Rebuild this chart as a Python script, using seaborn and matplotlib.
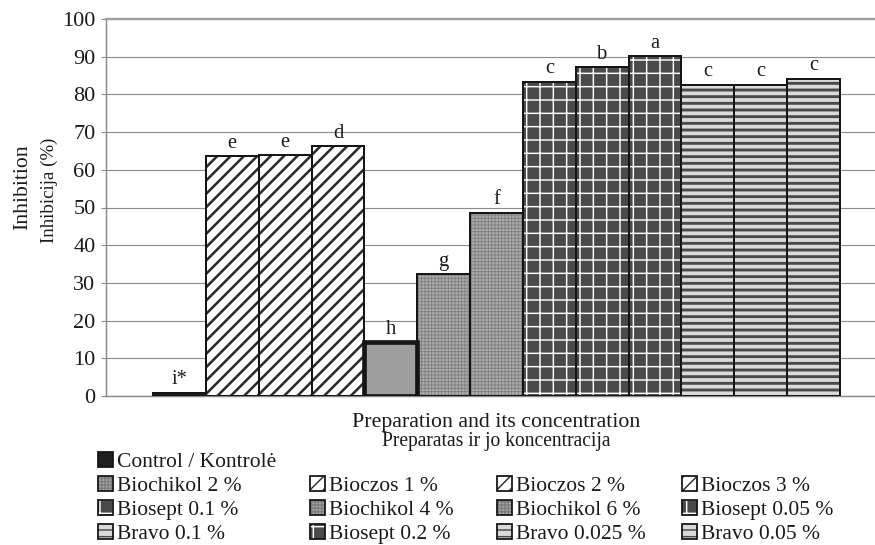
import matplotlib
matplotlib.use("Agg")
import matplotlib.pyplot as plt
from matplotlib.patches import Patch, Rectangle
import seaborn as sns


# bars, left to right
preparations = [
    "Control / Kontrolė",
    "Bioczos 1 %", "Bioczos 2 %", "Bioczos 3 %",
    "Biochikol 2 %", "Biochikol 4 %", "Biochikol 6 %",
    "Biosept 0.05 %", "Biosept 0.1 %", "Biosept 0.2 %",
    "Bravo 0.025 %", "Bravo 0.05 %", "Bravo 0.1 %",
]
inhibition = [0.9, 63.6, 63.9, 66.3, 14.2, 32.4, 48.6, 83.4, 87.3, 90.2, 82.6, 82.6, 84.2]
letters = ["i*", "e", "e", "d", "h", "g", "f", "c", "b", "a", "c", "c", "c"]

y_ticks = [0, 10, 20, 30, 40, 50, 60, 70, 80, 90, 100]

# legend as laid out in the figure (row by row, 4 columns)
legend_rows = [
    ["Control / Kontrolė"],
    ["Biochikol 2 %", "Bioczos 1 %", "Bioczos 2 %", "Bioczos 3 %"],
    ["Biosept 0.1 %", "Biochikol 4 %", "Biochikol 6 %", "Biosept 0.05 %"],
    ["Bravo 0.1 %", "Biosept 0.2 %", "Bravo 0.025 %", "Bravo 0.05 %"],
]

# fill styles per preparation group: face, hatch, hatch colour, hatch width
STYLES = {
    "Control": ("#1e1e1e", None, "#1e1e1e", 1.0),
    "Bioczos": ("white", "//", "#2a2a2a", 2.3),
    "Biochikol 2": ("#9e9e9e", None, "#9e9e9e", 1.0),
    "Biochikol": ("#ababab", "++++", "#7c7c7c", 0.7),
    "Biosept": ("#4a4a4a", "+", "white", 1.3),
    "Bravo": ("#dadada", "--", "#4a4a4a", 2.6),
}
GROUPS = ("Control", "Bioczos", "Biochikol", "Biosept", "Bravo")


def style_for(name, legend=False):
    if name.startswith("Biochikol 2 ") and not legend:
        return STYLES["Biochikol 2"]
    for key in GROUPS:
        if name.startswith(key):
            return STYLES[key]


def hatch_width(artist, lw):
    # per-patch hatch width: use the setter if there is one, else the stored value,
    # and keep the rcParam at that value while this patch draws
    if hasattr(artist, "set_hatch_linewidth"):
        artist.set_hatch_linewidth(lw)
    elif hasattr(artist, "_hatch_linewidth"):
        artist._hatch_linewidth = lw
    orig = artist.draw

    def draw(renderer):
        with plt.rc_context({"hatch.linewidth": lw}):
            orig(renderer)

    artist.draw = draw


def apply_style(patch, name):
    face, hatch, hcolor, hlw = style_for(name)
    patch.set_facecolor(face)
    patch.set_edgecolor(hcolor)
    patch.set_linewidth(0)
    if hatch:
        patch.set_hatch(hatch)
        hatch_width(patch, hlw)


DPI = 80
W, H = 875, 545

sns.set_theme(style="white")
plt.rcParams["font.family"] = ["Liberation Serif", "DejaVu Serif"]
plt.rcParams["hatch.linewidth"] = 1.3

fig = plt.figure(figsize=(W / DPI, H / DPI), dpi=DPI)
ax = fig.add_axes([106 / W, 149 / H, 781 / W, 377 / H])

sns.barplot(x=preparations, y=inhibition, order=preparations, width=1.0,
            color="grey", errorbar=None, ax=ax)

bars = list(ax.patches)
for patch, name, letter, val in zip(bars, preparations, letters, inhibition):
    apply_style(patch, name)
    lw = 4.2 if name.startswith("Biochikol 2 ") else 1.8
    ax.add_patch(Rectangle(patch.get_xy(), patch.get_width(), patch.get_height(),
                           fill=False, edgecolor="#151515", linewidth=lw,
                           joinstyle="miter", zorder=3))
    ax.annotate(letter, (patch.get_x() + patch.get_width() / 2, val),
                xytext=(0, 3), textcoords="offset points",
                ha="center", va="bottom", fontsize=18.5, color="#1a1a1a")

ax.set_xlim(-1.389, 13.389)
ax.set_ylim(0, 100)
ax.set_yticks(y_ticks)
ax.set_xticks([])
ax.set_xlabel("")
ax.set_ylabel("")
ax.yaxis.grid(True, color="#8a8a8a", linewidth=1.0)
ax.set_axisbelow(True)
ax.tick_params(axis="y", left=True, length=4.5, width=1.0, color="#8a8a8a",
               pad=5, labelsize=20, labelcolor="#1a1a1a")
for side in ("left", "bottom", "top"):
    ax.spines[side].set_color("#8a8a8a")
    ax.spines[side].set_linewidth(1.3)
ax.spines["top"].set_color("#a0a0a0")
ax.spines["top"].set_linewidth(2.2)
ax.spines["right"].set_visible(False)

fig.text(23 / W, 1 - 187 / H, "Inhibition", rotation=90, ha="center", va="center",
         fontsize=19.5, color="#1a1a1a")
fig.text(49 / W, 1 - 190 / H, "Inhibicija (%)", rotation=90, ha="center", va="center",
         fontsize=17, color="#1a1a1a")
fig.text(496.5 / W, 1 - 427 / H, "Preparation and its concentration", ha="center",
         va="baseline", fontsize=19.7, color="#1a1a1a")
fig.text(496.5 / W, 1 - 446 / H, "Preparatas ir jo koncentracija", ha="center",
         va="baseline", fontsize=17.6, color="#1a1a1a")


def legend_handle(name):
    face, hatch, hcolor, hlw = style_for(name, legend=True)
    fillp = Patch(facecolor=face, edgecolor=hcolor, linewidth=0, hatch=hatch)
    edge = Patch(facecolor="none", edgecolor="#151515", linewidth=1.6)
    return (fillp, edge)


blank = Patch(facecolor="none", edgecolor="none")
col_x = [98, 310, 497, 682]
for c, x in enumerate(col_x):
    handles, labels = [], []
    for row in legend_rows:
        if c < len(row):
            handles.append(legend_handle(row[c]))
            labels.append(row[c])
        else:
            handles.append(blank)
            labels.append("")
    fig.legend(handles, labels, loc="center left", bbox_to_anchor=(x / W, 1 - 498 / H),
               frameon=False, fontsize=19.4, borderpad=0, borderaxespad=0,
               handlelength=0.7, handleheight=0.7, handletextpad=0.18,
               labelspacing=0.17, labelcolor="#1a1a1a")

fig.savefig("out.png", dpi=DPI)
